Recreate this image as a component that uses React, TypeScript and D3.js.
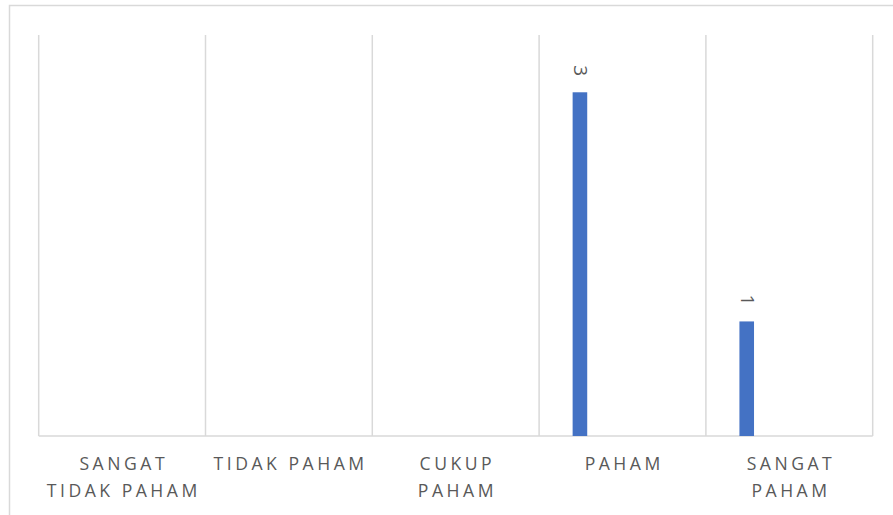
import React, { useEffect, useRef } from 'react';
import * as d3 from 'd3';

// categories as shown on the axis (Excel wraps some of them onto two lines)
const categories = ['SANGAT TIDAK PAHAM', 'TIDAK PAHAM', 'CUKUP PAHAM', 'PAHAM', 'SANGAT PAHAM'];
const categoryLines = [
  ['SANGAT', 'TIDAK PAHAM'],
  ['TIDAK PAHAM'],
  ['CUKUP', 'PAHAM'],
  ['PAHAM'],
  ['SANGAT', 'PAHAM'],
];
const values = [0, 0, 0, 3, 1];
const yMax = 3.5;

const W = 893;
const H = 515;

export default function App() {
  const svgRef = useRef<SVGSVGElement>(null);

  useEffect(() => {
    if (!svgRef.current) return;
    const svg = d3.select(svgRef.current);
    svg.selectAll('*').remove();

    const font = "'Open Sans', 'Noto Sans', sans-serif";
    const textColor = '#595959';
    const gridColor = '#d9d9d9';

    const plot = { left: 38.7, right: 872.7, top: 35, bottom: 436 };

    // chart frame (its right and bottom edges are outside the picture)
    svg.append('rect')
      .attr('x', 9.5)
      .attr('y', 5.5)
      .attr('width', W + 20)
      .attr('height', H + 20)
      .attr('fill', '#fff')
      .attr('stroke', gridColor)
      .attr('stroke-width', 1.5);

    const x = d3.scaleBand<string>()
      .domain(categories)
      .range([plot.left, plot.right])
      .padding(0);

    const y = d3.scaleLinear()
      .domain([0, yMax])
      .range([plot.bottom, plot.top]);

    // vertical gridlines at category boundaries
    const bounds = categories.map(c => x(c) as number).concat([plot.right]);
    svg.append('g')
      .selectAll('line')
      .data(bounds)
      .enter()
      .append('line')
      .attr('x1', d => d)
      .attr('x2', d => d)
      .attr('y1', plot.top)
      .attr('y2', plot.bottom)
      .attr('stroke', gridColor)
      .attr('stroke-width', 1.5);

    // axis line
    svg.append('line')
      .attr('x1', plot.left)
      .attr('x2', plot.right)
      .attr('y1', plot.bottom)
      .attr('y2', plot.bottom)
      .attr('stroke', gridColor)
      .attr('stroke-width', 1.5);

    const bw = x.bandwidth();
    const barOffset = bw * 0.201;
    const barWidth = bw * 0.0875;

    const data = categories.map((c, i) => ({ cat: c, value: values[i] }));
    const shown = data.filter(d => d.value > 0);

    svg.append('g')
      .selectAll('rect')
      .data(shown)
      .enter()
      .append('rect')
      .attr('x', d => (x(d.cat) as number) + barOffset)
      .attr('y', d => y(d.value))
      .attr('width', barWidth)
      .attr('height', d => y(0) - y(d.value))
      .attr('fill', '#4472c4');

    // data labels, rotated
    svg.append('g')
      .selectAll('text')
      .data(shown)
      .enter()
      .append('text')
      .attr('transform', d => {
        const cx = (x(d.cat) as number) + barOffset + barWidth / 2 + 1.5;
        const cy = y(d.value) - 21.5;
        return `translate(${cx},${cy}) rotate(90)`;
      })
      .attr('text-anchor', 'middle')
      .attr('dominant-baseline', 'central')
      .attr('font-family', font)
      .attr('font-size', 19)
      .attr('fill', textColor)
      .text(d => String(d.value));

    // category labels
    const labels = svg.append('g')
      .selectAll('text')
      .data(categories)
      .enter()
      .append('text')
      .attr('text-anchor', 'middle')
      .attr('font-family', font)
      .attr('font-size', 17.6)
      .attr('letter-spacing', 3.5)
      .attr('fill', textColor);

    labels.each(function (c, i) {
      const t = d3.select(this);
      const cx = (x(c) as number) + bw / 2 + 1.7;
      categoryLines[i].forEach((line, j) => {
        t.append('tspan')
          .attr('x', cx)
          .attr('y', 470 + j * 27)
          .text(line);
      });
    });
  }, []);

  return (
    <div style={{ position: 'absolute', left: 0, top: 0 }}>
      <svg ref={svgRef} width={W} height={H} style={{ display: 'block' }} />
    </div>
  );
}
